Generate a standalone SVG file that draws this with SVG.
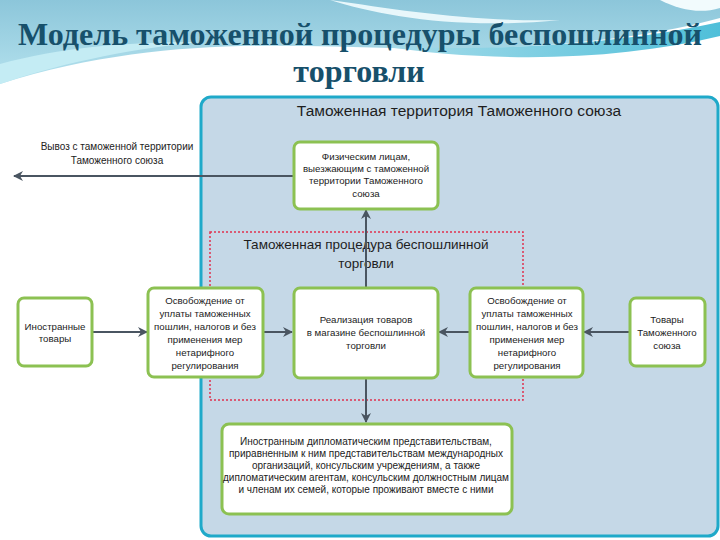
<svg xmlns="http://www.w3.org/2000/svg" width="720" height="540" viewBox="0 0 720 540">
<defs>
<linearGradient id="bgTop" x1="0" y1="0" x2="0" y2="1">
<stop offset="0" stop-color="#8cc6da"/>
<stop offset="1" stop-color="#b5e2ee"/>
</linearGradient>
<linearGradient id="band" x1="0" y1="0" x2="1" y2="0">
<stop offset="0" stop-color="#a8dcea"/>
<stop offset="1" stop-color="#4fbfd9"/>
</linearGradient>
<marker id="arr" viewBox="0 0 10 10" refX="9" refY="5" markerWidth="5" markerHeight="5" orient="auto" markerUnits="strokeWidth">
<path d="M0,0 L10,5 L0,10 L3,5 Z" fill="#4a5561"/>
</marker>
<style>
.node rect{fill:#ffffff;stroke:#8cc152;stroke-width:3}
.t{font-family:"Liberation Sans","Open Sans",sans-serif;font-size:9.7px;fill:#222;text-anchor:middle}
.b{font-size:10px}
.h{font-family:"Liberation Sans","Open Sans",sans-serif;fill:#1e1e1e;text-anchor:middle}
.c line{stroke:#4a5561;stroke-width:2;marker-end:url(#arr)}
</style>
</defs>
<rect width="720" height="540" fill="#ffffff"/>
<g id="background">
<path d="M0,0 H720 V18 C640,40 520,52 390,48 C260,44 140,40 0,84 Z" fill="url(#bgTop)"/>
<path d="M380,46 C500,52 620,44 720,22 V36 C620,60 500,64 380,46 Z" fill="url(#band)"/>
<path d="M0,64 C60,48 120,42 200,42 C140,48 70,60 0,84 Z" fill="#c4ecf4"/>
<path d="M330,0 C400,10 470,22 560,20 C460,30 380,16 330,0 Z" fill="#e8f7fb"/>
<path d="M660,0 H720 V8 C700,14 680,10 660,0 Z" fill="#f2fbfd"/>
</g>
<g id="title" font-family="Liberation Serif,'Times New Roman',serif" font-weight="bold" fill="#17506b" text-anchor="middle">
<text x="360" y="45" font-size="32" textLength="684" lengthAdjust="spacingAndGlyphs">Модель таможенной процедуры беспошлинной</text>
<text x="359" y="82" font-size="32">торговли</text>
</g>
<g id="territory">
<rect x="201" y="97" width="517" height="439" rx="10" fill="#c5d8e7" stroke="#1fa9c9" stroke-width="3"/>
<text class="h" x="459" y="116" font-size="15.5">Таможенная территория Таможенного союза</text>
</g>
<g id="procedure">
<rect x="210" y="232" width="313" height="168" fill="none" stroke="#e0304f" stroke-width="1.5" stroke-dasharray="2,2"/>
<text class="h" x="366" y="249" font-size="13.5">Таможенная процедура беспошлинной</text>
<text class="h" x="366" y="268" font-size="13.5">торговли</text>
</g>
<g class="c" id="connectors">
<line x1="293" y1="176" x2="14" y2="176"/>
<line x1="366" y1="288" x2="366" y2="210"/>
<line x1="366" y1="378" x2="366" y2="422"/>
<line x1="92" y1="332" x2="147" y2="332"/>
<line x1="263" y1="332" x2="292" y2="332"/>
<line x1="470" y1="332" x2="439" y2="332"/>
<line x1="630" y1="332" x2="584" y2="332"/>
</g>
<g id="exit-label">
<text class="t b" x="117" y="150">Вывоз с таможенной территории</text>
<text class="t b" x="117" y="164">Таможенного союза</text>
</g>
<g class="node" id="n-individuals">
<rect x="294" y="142" width="144" height="67" rx="6"/>
<text class="t" x="366" y="160">Физическим лицам,</text>
<text class="t" x="366" y="172">выезжающим с таможенной</text>
<text class="t" x="366" y="184">территории Таможенного</text>
<text class="t" x="366" y="197">союза</text>
</g>
<g class="node" id="n-foreign">
<rect x="18" y="298" width="74" height="68" rx="6"/>
<text class="t" x="55" y="330">Иностранные</text>
<text class="t" x="55" y="342">товары</text>
</g>
<g class="node" id="n-exempt-left">
<rect x="148" y="288" width="115" height="89" rx="6"/>
<text class="t" x="205" y="304">Освобождение от</text>
<text class="t" x="205" y="317">уплаты таможенных</text>
<text class="t" x="205" y="330">пошлин, налогов и без</text>
<text class="t" x="205" y="343">применения мер</text>
<text class="t" x="205" y="356">нетарифного</text>
<text class="t" x="205" y="369">регулирования</text>
</g>
<g class="node" id="n-sale">
<rect x="294" y="288" width="144" height="90" rx="6"/>
<text class="t" x="366" y="323">Реализация товаров</text>
<text class="t" x="366" y="336">в магазине беспошлинной</text>
<text class="t" x="366" y="349">торговли</text>
</g>
<g class="node" id="n-exempt-right">
<rect x="470" y="288" width="113" height="89" rx="6"/>
<text class="t" x="527" y="304">Освобождение от</text>
<text class="t" x="527" y="317">уплаты таможенных</text>
<text class="t" x="527" y="330">пошлин, налогов и без</text>
<text class="t" x="527" y="343">применения мер</text>
<text class="t" x="527" y="356">нетарифного</text>
<text class="t" x="527" y="369">регулирования</text>
</g>
<g class="node" id="n-union-goods">
<rect x="630" y="298" width="75" height="68" rx="6"/>
<text class="t" x="667" y="323">Товары</text>
<text class="t" x="667" y="336">Таможенного</text>
<text class="t" x="667" y="349">союза</text>
</g>
<g class="node" id="n-diplomats">
<rect x="222" y="424" width="290" height="90" rx="7"/>
<text class="t b" x="366" y="445">Иностранным дипломатическим представительствам,</text>
<text class="t b" x="366" y="457">приравненным к ним представительствам международных</text>
<text class="t b" x="366" y="469">организаций, консульским учреждениям, а также</text>
<text class="t b" x="366" y="481">дипломатическим агентам, консульским должностным лицам</text>
<text class="t b" x="366" y="493">и членам их семей, которые проживают вместе с ними</text>
</g>
</svg>
